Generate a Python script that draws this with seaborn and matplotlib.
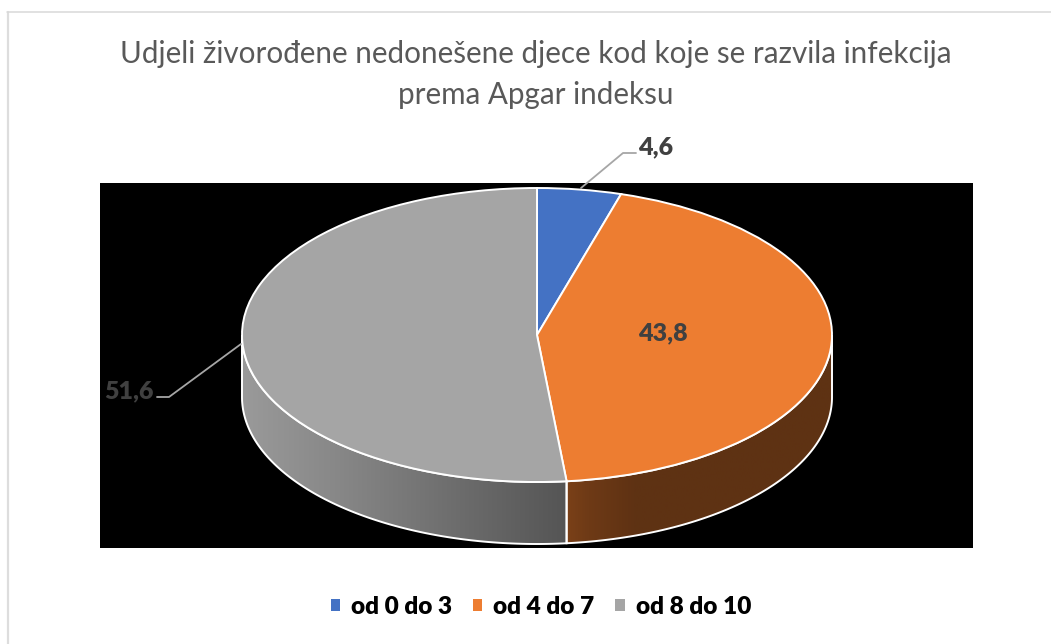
import numpy as np
import matplotlib
matplotlib.use("Agg")
import matplotlib.pyplot as plt
from matplotlib.patches import Polygon, Patch, Rectangle
from matplotlib.colors import LinearSegmentedColormap
import seaborn as sns

title = "Udjeli živorođene nedonešene djece kod koje se razvila infekcija\nprema Apgar indeksu"
categories = ["od 0 do 3", "od 4 do 7", "od 8 do 10"]
values = [4.6, 43.8, 51.6]
labels = ["4,6", "43,8", "51,6"]
colors = ["#4472C4", "#ED7D31", "#A5A5A5"]

W, H = 1051, 644
CX, CY, RX, RY, DEPTH = 537, 335, 295, 147, 62

sns.set_theme(style="white")
plt.rcParams["font.family"] = ["Lato", "DejaVu Sans"]

fig = plt.figure(figsize=(W / 100, H / 100), dpi=100, facecolor="white")
ax = fig.add_axes([0, 0, 1, 1])

wedges, _ = ax.pie(values, colors=colors, startangle=90, counterclock=False,
                   radius=1, wedgeprops=dict(edgecolor="white", linewidth=1.4, zorder=5))
ax.set_aspect("auto")
ax.set_xlim(-CX / RX, (W - CX) / RX)
ax.set_ylim((CY - H) / RY, CY / RY)
ax.axis("off")

def px(x, y):
    return (x - CX) / RX, (CY - y) / RY

# chart frame (only top and left fall inside the crop) and black plot area
p = np.array([px(8, 660), px(8, 11.5)])
ax.plot(p[:, 0], p[:, 1], color="#DDDDDD", lw=1.6, zorder=0)
p = np.array([px(7, 11.5), px(1060, 11.5)])
ax.plot(p[:, 0], p[:, 1], color="#D9D9D9", lw=1.1, zorder=0)
(bx0, by0), (bx1, by1) = px(100, 183), px(973, 548)
ax.add_patch(Rectangle((bx0, by1), bx1 - bx0, by0 - by1, fc="black", ec="none", zorder=1))

# side wall derived from the values
d = DEPTH / RY
cum = np.cumsum([0] + values) / sum(values) * 2 * np.pi
def wall(a0, a1, stops, extent_x):
    a = np.linspace(a0, a1, 200)
    xs, ys = np.sin(a), np.cos(a)
    verts = np.r_[np.c_[xs, ys], np.c_[xs[::-1], ys[::-1] - d]]
    poly = Polygon(verts, closed=True, fc="none", ec="white", lw=1.4, zorder=4)
    cmap = LinearSegmentedColormap.from_list("w", stops)
    im = ax.imshow(np.linspace(0, 1, 256)[None, :], cmap=cmap, aspect="auto", zorder=3,
                   extent=(extent_x[0], extent_x[1], -1 - d, 1), interpolation="bilinear")
    clip = Polygon(verts, closed=True, transform=ax.transData)
    im.set_clip_path(clip)
    ax.add_patch(poly)

x_split = np.sin(cum[2])
wall(np.pi / 2, cum[2], [(0, "#7A4018"), (0.08, "#6E3A16"), (0.25, "#5F3213"), (1, "#5E3213")], (x_split, 1))
wall(cum[2], 3 * np.pi / 2, [(0, "#555555"), (0.3, "#6A6A6A"), (0.7, "#878787"), (1, "#9A9A9A")], (x_split, -1))
ax.set_xlim(-CX / RX, (W - CX) / RX)
ax.set_ylim((CY - H) / RY, CY / RY)

# leader lines
for pts in ([(581, 188), (623, 153), (636, 153)], [(241, 344), (169, 397), (157, 397)]):
    p = np.array([px(*q) for q in pts])
    ax.plot(p[:, 0], p[:, 1], color="#A6A6A6", lw=1.3, zorder=6)

# value labels
lab_pos = [(656, 147), (663, 333), (129, 391)]
for s, q in zip(labels, lab_pos):
    x, y = px(*q)
    ax.text(x, y, s, ha="center", va="center", fontsize=18, fontweight="heavy", color="#404040", zorder=7)

x, y = px(536, 74.5)
ax.text(x, y, title, ha="center", va="center", fontsize=21.3, color="#595959", linespacing=1.55, zorder=7)

handles = [Patch(fc=c, ec="none") for c in colors]
leg = ax.legend(handles, categories, loc="center", bbox_to_anchor=(541 / W, 1 - 607 / H), ncol=3, frameon=False,
                prop=dict(size=17.6, weight="heavy"), handlelength=0.38, handleheight=0.38, handletextpad=0.45,
                columnspacing=0.85, labelcolor="black")
leg.set_zorder(8)

fig.savefig("out.png", dpi=100)
